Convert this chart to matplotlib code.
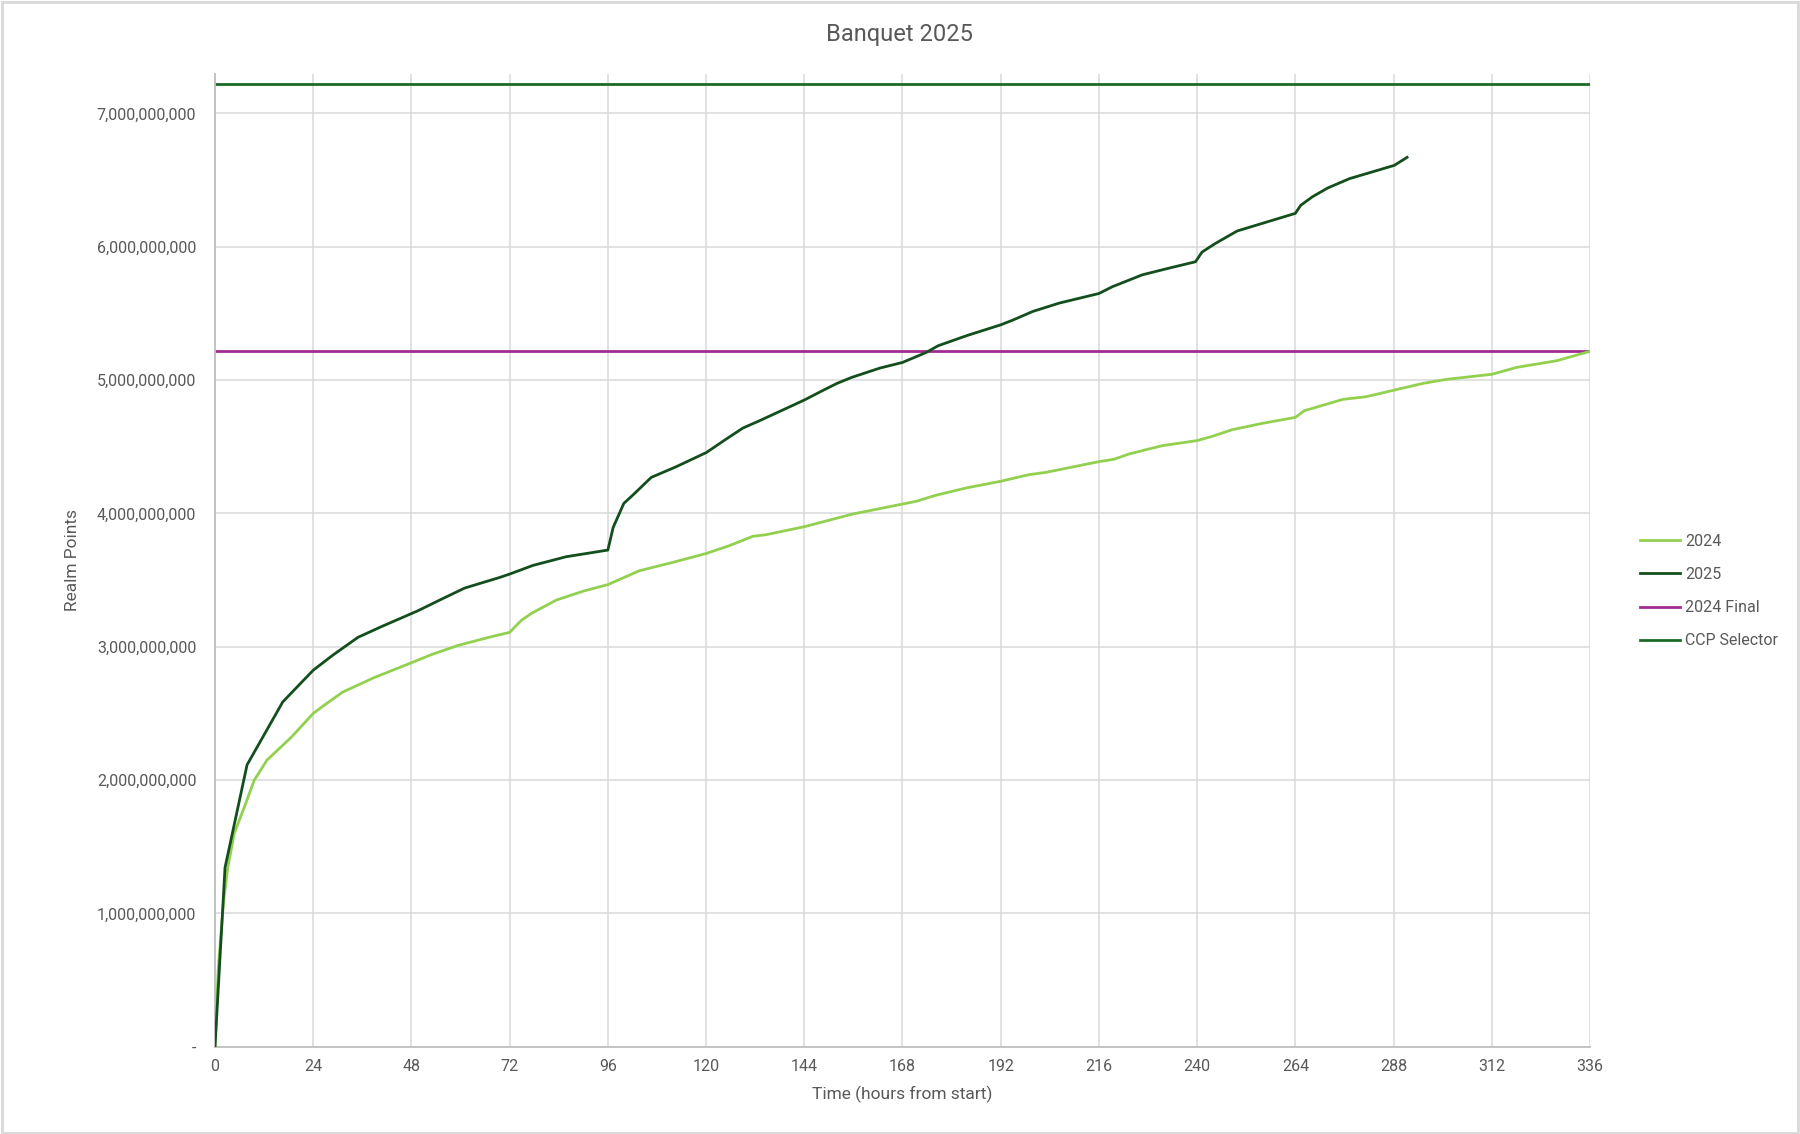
import matplotlib
matplotlib.use("Agg")
import matplotlib.pyplot as plt
from matplotlib.patches import Rectangle
from matplotlib.ticker import FuncFormatter, MultipleLocator

# ---- data (values in billions of realm points) ----
hours_2024 = [0, 0.8, 2.1, 3.1, 4.7, 7.2, 9.6, 12.7, 18.6, 24, 26.3, 31.2, 39, 48, 52.8,
              59.4, 67.5, 72, 74.8, 77.3, 83.4, 89.9, 96, 103.7, 111.9, 120.1, 125.7, 131.4,
              134.6, 144, 155.8, 168, 171.4, 175.9, 183.6, 192, 199, 203.1, 216, 219.7,
              223.4, 231.5, 240, 243.7, 248.6, 255.9, 264, 266.2, 272.3, 275.6, 281.3,
              288.2, 295.2, 300.9, 312, 318.1, 327.9, 336]
points_2024 = [0, 0.59, 1.09, 1.34, 1.60, 1.80, 2.00, 2.15, 2.32, 2.50, 2.553, 2.66, 2.77,
               2.88, 2.94, 3.01, 3.075, 3.108, 3.196, 3.25, 3.35, 3.416, 3.466, 3.57, 3.633,
               3.70, 3.758, 3.828, 3.84, 3.90, 3.995, 4.07, 4.091, 4.134, 4.191, 4.241,
               4.291, 4.308, 4.388, 4.406, 4.446, 4.508, 4.546, 4.578, 4.628, 4.675, 4.72,
               4.77, 4.825, 4.855, 4.875, 4.925, 4.975, 5.005, 5.043, 5.095, 5.145, 5.215]

hours_2025 = [0, 2.45, 7.83, 16.55, 24, 28.8, 34.9, 40.6, 49.6, 54.9, 61, 69.6, 72, 77.7,
              85.8, 96, 97.3, 99.9, 102.2, 106.6, 112.7, 120.1, 124.9, 129, 133, 144, 148.1,
              152, 155.6, 162.5, 168, 173.8, 176.7, 183.6, 192, 195, 199.8, 206.3, 216,
              219.3, 226.6, 233.1, 239.6, 241.2, 244.5, 249.8, 264, 265.3, 268.2, 271.9,
              277.2, 288.2, 291.3]
points_2025 = [0, 1.344, 2.114, 2.586, 2.824, 2.937, 3.07, 3.15, 3.27, 3.35, 3.44, 3.52,
               3.545, 3.61, 3.675, 3.725, 3.895, 4.075, 4.14, 4.27, 4.35, 4.457, 4.557, 4.64,
               4.694, 4.85, 4.915, 4.975, 5.02, 5.09, 5.132, 5.207, 5.257, 5.332, 5.414,
               5.45, 5.514, 5.577, 5.649, 5.70, 5.789, 5.839, 5.887, 5.96, 6.025, 6.118,
               6.25, 6.31, 6.375, 6.44, 6.51, 6.61, 6.67]

final_2024 = 5.215
ccp_selector = 7.22

x_ticks = list(range(0, 337, 24))

# ---- style ----
plt.rcParams['font.family'] = ['Roboto', 'DejaVu Sans']
text_col = '#595959'
grid_col = '#D9D9D9'

fig = plt.figure(figsize=(18, 11.34), dpi=100)
ax = fig.add_axes([215/1800, 1-1046.8/1134, (1590-215)/1800, (1046.8-74)/1134])

B = 1e9
ax.plot(hours_2024, [v*B for v in points_2024], color='#92D050', lw=2.0, label='2024',
        solid_joinstyle='round', zorder=3)
ax.plot(hours_2025, [v*B for v in points_2025], color='#134F1D', lw=2.0, label='2025',
        solid_joinstyle='round', zorder=4)
ax.axhline(final_2024*B, color='#A02B93', lw=2.0, label='2024 Final', zorder=2)
ax.axhline(ccp_selector*B, color='#1B6B26', lw=2.0, label='CCP Selector', zorder=2)

ax.set_xlim(0, 336)
ax.set_ylim(0, 7.295*B)
ax.set_xticks(x_ticks)
ax.yaxis.set_major_locator(MultipleLocator(1e9))
ax.yaxis.set_major_formatter(FuncFormatter(lambda v, p: '-' if v == 0 else f'{int(round(v)):,}'))
ax.grid(True, color=grid_col, lw=1.1)
ax.set_axisbelow(True)
for s in ['top', 'right']:
    ax.spines[s].set_visible(False)
for s in ['left', 'bottom']:
    ax.spines[s].set_color('#BFBFBF')
    ax.spines[s].set_linewidth(1.3)
ax.tick_params(axis='both', length=0, labelsize=11.5, labelcolor=text_col)
ax.tick_params(axis='y', pad=13.5)
ax.tick_params(axis='x', pad=9)

ax.set_xlabel('Time (hours from start)', fontsize=12.5, color=text_col, labelpad=8)
ax.set_ylabel('Realm Points', fontsize=12.5, color=text_col, labelpad=12)
fig.text(0.5, 1-35/1134, 'Banquet 2025', ha='center', va='center', fontsize=17, color=text_col)

fig.legend(loc='center left', bbox_to_anchor=(1626/1800, 1-591/1134), frameon=False,
           fontsize=11.5, labelcolor=text_col, handlelength=2.5, handletextpad=0.3,
           labelspacing=1.14)

fig.add_artist(Rectangle((0.001, 0.001), 0.998, 0.997, transform=fig.transFigure,
                         fill=False, edgecolor=grid_col, lw=2))

fig.savefig('out.png', dpi=100)
